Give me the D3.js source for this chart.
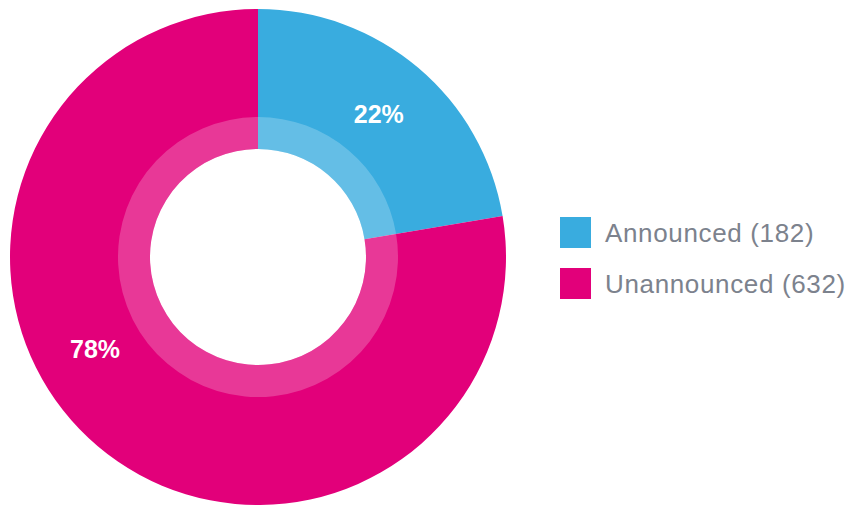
<!DOCTYPE html>
<html>
<head>
<meta charset="utf-8">
<script src="https://cdn.jsdelivr.net/npm/d3@7"></script>
<style>
  body { margin: 0; background: #fff; }
  svg { display: block; font-family: "Liberation Sans", Arial, sans-serif; }
</style>
</head>
<body>
<svg id="chart"></svg>
<script>
// data
const categories = ['Announced', 'Unannounced'];
const counts = [182, 632];
const colors = ['#39ACDF', '#E2007A'];

const width = 852, height = 505;
const cx = 258, cy = 257;
const outerR = 248, ringR = 140, innerR = 108;

const svg = d3.select('#chart')
    .attr('width', width)
    .attr('height', height);

const total = d3.sum(counts);
const rows = categories.map((c, i) => ({ name: c, value: counts[i], color: colors[i] }));

const pie = d3.pie()
    .value(d => d.value)
    .sort(null);

const arcs = pie(rows);

const outerArc = d3.arc().innerRadius(innerR).outerRadius(outerR);
const ringArc = d3.arc().innerRadius(innerR).outerRadius(ringR);

const g = svg.append('g').attr('transform', `translate(${cx},${cy})`);

g.selectAll('.slice')
    .data(arcs)
    .join('path').attr('class', 'slice')
        .attr('d', outerArc)
        .attr('fill', d => d.data.color);

// lighter inner band
g.selectAll('.ring')
    .data(arcs)
    .join('path').attr('class', 'ring')
        .attr('d', ringArc)
        .attr('fill', '#fff')
        .attr('fill-opacity', 0.22);

// percentage labels (big slice label sits a bit past its middle)
const labelFrac = [0.5, 0.573];
const labelR = 187;
g.selectAll('.pct')
    .data(arcs)
    .join('text').attr('class', 'pct')
        .attr('transform', (d, i) => {
            const a = d.startAngle + (d.endAngle - d.startAngle) * labelFrac[i];
            return `translate(${labelR * Math.sin(a)},${-labelR * Math.cos(a)})`;
        })
        .attr('text-anchor', 'middle')
        .attr('dy', '0.36em')
        .attr('fill', '#fff')
        .attr('font-weight', 'bold')
        .attr('font-size', 25)
        .text(d => Math.round(d.data.value / total * 100) + '%');

// legend
const legend = svg.append('g').attr('transform', 'translate(560,217)');
const item = legend.selectAll('.item')
    .data(rows)
    .join('g').attr('class', 'item')
        .attr('transform', (d, i) => `translate(0,${i * 51})`);

item.append('rect')
    .attr('width', 31)
    .attr('height', 31)
    .attr('fill', d => d.color);

item.append('text')
    .attr('x', 45)
    .attr('y', 25)
    .attr('font-size', 26)
    .attr('letter-spacing', 0.65)
    .attr('fill', '#7C828D')
    .text(d => `${d.name} (${d.value})`);
</script>
</body>
</html>
